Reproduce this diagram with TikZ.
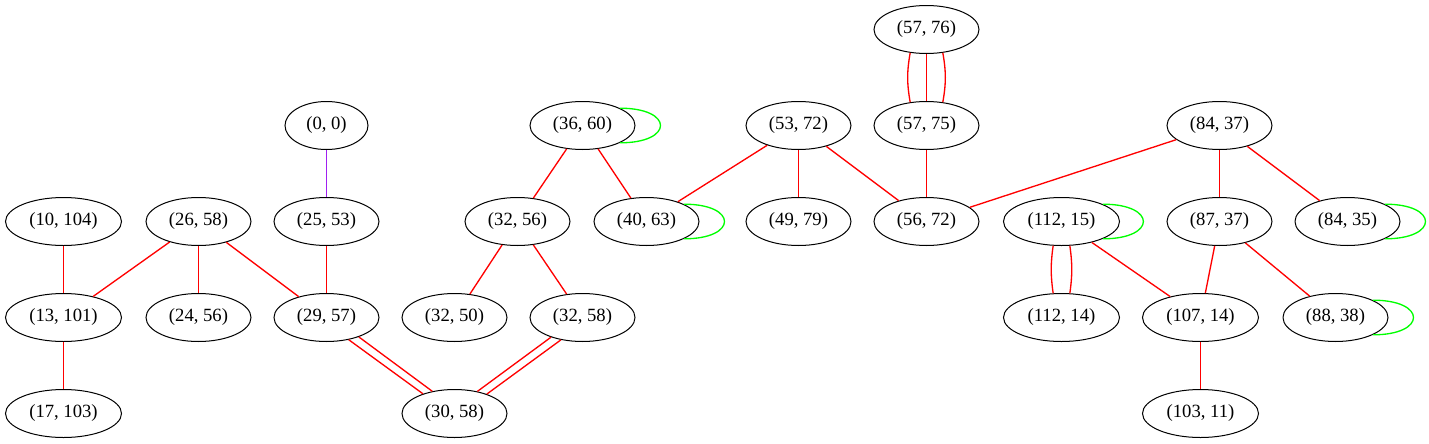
\documentclass[tikz,border=0pt]{standalone}
\usepackage{fontspec}
\setmainfont{Liberation Serif}
\usetikzlibrary{shapes.geometric}
\definecolor{edgered}{RGB}{255,0,0}
\definecolor{loopgreen}{RGB}{0,255,0}
\definecolor{edgepurple}{RGB}{160,32,240}

\begin{document}
\begin{tikzpicture}[x=0.75pt,y=-0.75pt,
  vertex/.style={draw=black,ellipse,line width=0.75pt,minimum width=78.75pt,minimum height=36pt,inner sep=0pt,font=\fontsize{14}{16}\selectfont},
  wide/.style={minimum width=87pt},
  narrow/.style={minimum width=62.25pt},
  link/.style={draw=edgered,line width=1pt},
  selfloop/.style={draw=loopgreen,line width=1pt}]
\useasboundingbox (-0.5,-0.5) rectangle (1428.5,442.5);
% Row 0
\node[vertex] (n57x76) at (926,29) {(57, 76)};
% Row 1
\node[vertex,narrow] (n0x0) at (326,125) {(0, 0)};
\node[vertex] (n36x60) at (582,125) {(36, 60)};
\node[vertex] (n53x72) at (798,125) {(53, 72)};
\node[vertex] (n57x75) at (926,125) {(57, 75)};
\node[vertex] (n84x37) at (1219,125) {(84, 37)};
% Row 2
\node[vertex,wide] (n10x104) at (63,221) {(10, 104)};
\node[vertex] (n26x58) at (198,221) {(26, 58)};
\node[vertex] (n25x53) at (326,221) {(25, 53)};
\node[vertex] (n32x56) at (517,221) {(32, 56)};
\node[vertex] (n40x63) at (646,221) {(40, 63)};
\node[vertex] (n49x79) at (798,221) {(49, 79)};
\node[vertex] (n56x72) at (926,221) {(56, 72)};
\node[vertex,wide] (n112x15) at (1061,221) {(112, 15)};
\node[vertex] (n87x37) at (1219,221) {(87, 37)};
\node[vertex] (n84x35) at (1347,221) {(84, 35)};
% Row 3
\node[vertex,wide] (n13x101) at (63,317) {(13, 101)};
\node[vertex] (n24x56) at (198,317) {(24, 56)};
\node[vertex] (n29x57) at (326,317) {(29, 57)};
\node[vertex] (n32x50) at (454,317) {(32, 50)};
\node[vertex] (n32x58) at (582,317) {(32, 58)};
\node[vertex,wide] (n112x14) at (1061,317) {(112, 14)};
\node[vertex,wide] (n107x14) at (1200,317) {(107, 14)};
\node[vertex] (n88x38) at (1335,317) {(88, 38)};
% Row 4
\node[vertex,wide] (n17x103) at (63,413) {(17, 103)};
\node[vertex] (n30x58) at (454,413) {(30, 58)};
\node[vertex,wide] (n103x11) at (1200,413) {(103, 11)};
% Edges
\draw[draw=edgepurple,line width=1pt] (n0x0) -- (n25x53);
\draw[link] (n25x53) -- (n29x57);
\draw[link] (n10x104) -- (n13x101);
\draw[link] (n26x58) -- (n13x101);
\draw[link] (n26x58) -- (n24x56);
\draw[link] (n26x58) -- (n29x57);
\draw[link] (n13x101) -- (n17x103);
\draw[link] (n29x57.-45) -- (n30x58.148); % double
\draw[link] (n29x57.-31) -- (n30x58.135);
\draw[link] (n36x60) -- (n32x56);
\draw[link] (n36x60) -- (n40x63);
\draw[link] (n32x56) -- (n32x50);
\draw[link] (n32x56) -- (n32x58);
\draw[link] (n32x58.212) -- (n30x58.44); % double
\draw[link] (n32x58.226) -- (n30x58.31);
\draw[link] (n53x72) -- (n40x63);
\draw[link] (n53x72) -- (n49x79);
\draw[link] (n53x72) -- (n56x72);
\draw[link] (n57x76.235) to[bend right=10] (n57x75.125); % triple
\draw[link] (n57x76) -- (n57x75);
\draw[link] (n57x76.305) to[bend left=10] (n57x75.55);
\draw[link] (n57x75) -- (n56x72);
\draw[link] (n84x37) -- (n56x72);
\draw[link] (n84x37) -- (n87x37);
\draw[link] (n84x37) -- (n84x35);
\draw[link] (n112x15.251) to[bend right=8] (n112x14.109); % double
\draw[link] (n112x15.289) to[bend left=8] (n112x14.71);
\draw[link] (n112x15) -- (n107x14);
\draw[link] (n87x37) -- (n107x14);
\draw[link] (n87x37) -- (n88x38);
\draw[link] (n107x14) -- (n103x11);
% Loops
\draw[selfloop] (n36x60.north east) .. controls +(54,0) and +(54,0) .. (n36x60.south east);
\draw[selfloop] (n40x63.north east) .. controls +(54,0) and +(54,0) .. (n40x63.south east);
\draw[selfloop] (n112x15.north east) .. controls +(54,0) and +(54,0) .. (n112x15.south east);
\draw[selfloop] (n84x35.north east) .. controls +(54,0) and +(54,0) .. (n84x35.south east);
\draw[selfloop] (n88x38.north east) .. controls +(54,0) and +(54,0) .. (n88x38.south east);
\end{tikzpicture}
\end{document}
